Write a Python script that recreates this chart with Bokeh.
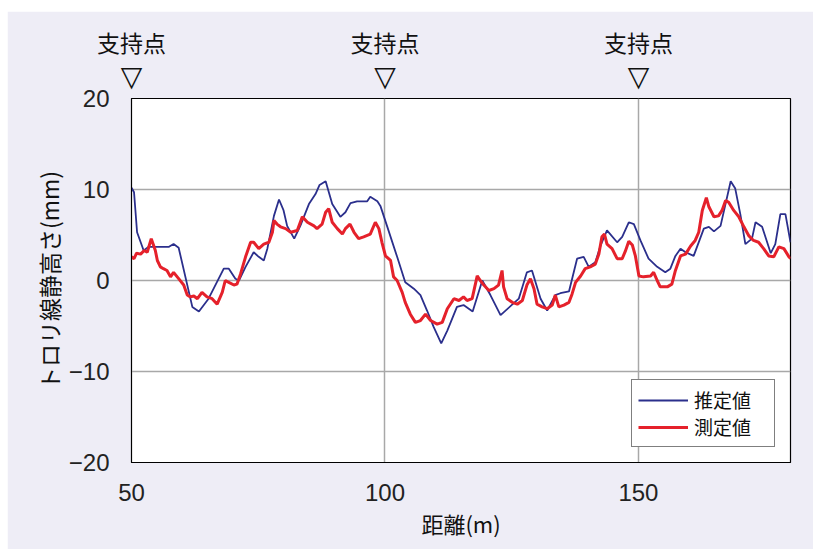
from bokeh.plotting import figure
from bokeh.models import FixedTicker, Legend, LegendItem, LinearAxis, Spacer
from bokeh.layouts import column, row
from bokeh.embed import file_html
from bokeh.resources import INLINE

# ---- data ----
est_x = [50.0, 50.5, 51.1, 52.4, 53.4, 57.4, 58.3, 59.3, 62.0, 63.3,
         65.2, 68.2, 69.2, 70.5, 71.2, 72.5, 74.1, 75.1, 76.1, 76.8,
         78.1, 79.1, 80.0, 80.7, 82.1, 83.3, 85.0, 86.3, 87.1, 88.3,
         89.6, 91.2, 92.2, 93.2, 94.5, 96.5, 97.1, 98.5, 99.1, 100.4,
         102.4, 104.0, 105.7, 107.0, 108.3, 109.6, 111.1, 112.3, 114.2, 115.5,
         117.3, 119.2, 120.8, 122.8, 126.4, 128.0, 129.0, 130.7, 132.0, 133.6,
         134.6, 136.3, 137.9, 139.2, 140.2, 141.5, 142.5, 143.8, 145.8, 146.8,
         148.1, 149.1, 150.4, 152.0, 153.7, 155.3, 156.3, 157.3, 158.3, 159.3,
         160.9, 162.9, 163.9, 164.9, 166.2, 168.2, 169.1, 170.1, 171.1, 172.4,
         173.1, 174.4, 176.1, 177.0, 178.0, 179.0, 180.0]
est_y = [10.2, 9.7, 5.3, 3.3, 3.7, 3.7, 4.0, 3.6, -2.9, -3.4,
         -2.0, 1.3, 1.3, 0.2, 0.0, 1.5, 3.1, 2.6, 2.2, 3.5,
         7.1, 8.9, 7.7, 6.0, 4.6, 6.0, 8.4, 9.5, 10.5, 10.9,
         8.4, 7.0, 7.5, 8.5, 8.7, 8.7, 9.2, 8.7, 8.2, 6.0,
         2.6, -0.2, -0.9, -1.6, -3.3, -5.1, -6.9, -5.5, -2.9, -2.7,
         -3.4, 0.0, -1.6, -3.8, -2.0, 0.9, 1.1, -2.0, -3.3, -1.6,
         -1.4, -1.2, 2.4, 2.6, 1.5, 2.0, 3.8, 5.5, 4.2, 4.8,
         6.4, 6.2, 4.4, 2.4, 1.5, 0.9, 1.3, 2.7, 3.5, 3.1,
         2.7, 5.7, 5.9, 5.4, 6.0, 10.9, 10.1, 7.3, 4.0, 4.6,
         6.4, 5.9, 3.0, 4.0, 7.3, 7.3, 4.2]

meas_x = [50.0, 50.5, 51.0, 51.8, 52.5, 53.1, 53.9, 54.4, 54.7, 55.1,
          55.7, 56.3, 57.0, 57.7, 58.3, 59.3, 60.3, 61.0, 61.6, 62.3,
          63.0, 63.9, 64.9, 65.9, 66.9, 67.9, 68.5, 69.2, 70.2, 70.8,
          71.5, 72.5, 73.5, 74.1, 75.1, 76.1, 77.1, 77.8, 78.1, 78.7,
          79.4, 80.4, 81.4, 82.7, 83.7, 84.7, 86.0, 86.6, 87.6, 88.3,
          88.9, 89.6, 90.6, 91.6, 92.2, 93.1, 93.9, 94.8, 95.8, 97.1,
          98.1, 98.8, 99.4, 100.1, 101.1, 101.7, 102.4, 103.4, 104.0, 105.0,
          106.0, 107.0, 108.0, 109.0, 110.3, 111.3, 112.3, 113.6, 114.6, 115.5,
          116.2, 117.2, 118.2, 118.8, 119.5, 120.5, 121.5, 122.4, 123.1, 123.4,
          124.1, 125.1, 126.1, 127.1, 128.0, 128.7, 129.4, 130.0, 131.0, 132.0,
          133.0, 133.6, 134.3, 135.3, 136.3, 136.9, 137.6, 138.6, 139.5, 140.5,
          141.5, 142.2, 142.8, 143.3, 143.8, 144.8, 145.8, 146.8, 147.4, 148.1,
          148.8, 149.4, 150.1, 151.0, 152.4, 153.0, 153.7, 154.3, 155.7, 156.6,
          157.3, 158.3, 159.3, 160.3, 161.2, 161.9, 162.6, 163.4, 163.9, 164.9,
          165.8, 166.5, 167.2, 167.8, 168.8, 169.8, 170.8, 171.8, 172.7, 173.7,
          174.7, 175.7, 176.7, 177.7, 178.7, 179.7, 180.0]
meas_y = [2.6, 2.4, 3.0, 2.9, 3.3, 3.1, 4.6, 3.8, 3.3, 2.2,
          1.5, 1.3, 1.1, 0.4, 0.9, 0.2, -0.5, -1.6, -1.8, -1.7,
          -2.0, -1.3, -1.8, -2.0, -2.6, -1.3, 0.0, -0.2, -0.5, -0.4,
          0.7, 2.6, 4.2, 4.2, 3.5, 4.0, 4.2, 5.3, 6.6, 6.2,
          5.9, 5.7, 5.3, 5.5, 7.0, 6.4, 6.0, 5.7, 6.2, 7.5,
          7.9, 6.4, 5.7, 5.1, 5.7, 6.2, 5.3, 4.6, 4.8, 5.1,
          6.4, 5.7, 4.2, 2.7, 2.2, 0.4, 0.0, -1.3, -2.4, -3.7,
          -4.6, -4.4, -3.7, -4.4, -4.8, -4.6, -3.1, -2.0, -2.2, -1.8,
          -2.2, -2.0, 0.5, 0.0, -0.5, -1.1, -0.9, -0.5, 1.1, -0.7,
          -2.0, -2.4, -2.6, -2.2, -0.5, 0.2, -0.9, -2.6, -2.9, -3.1,
          -2.7, -1.6, -2.9, -2.7, -2.4, -1.5, -0.2, 0.5, 1.3, 1.5,
          1.8, 2.9, 4.8, 5.1, 4.0, 3.5, 2.4, 2.4, 3.2, 4.3,
          3.9, 2.7, 0.5, 0.4, 0.5, 0.9, 0.0, -0.7, -0.7, -0.4,
          1.1, 2.7, 2.9, 3.8, 4.4, 5.3, 7.7, 9.1, 8.1, 7.0,
          7.1, 7.7, 8.8, 8.6, 7.7, 7.0, 5.9, 4.9, 4.4, 4.2,
          3.5, 2.7, 2.6, 3.7, 3.5, 2.6, 2.4]

support_x = [50, 100, 150]
support_label = "支持点"
support_mark = "▽"
x_ticks = [50, 100, 150]
y_ticks = [-20, -10, 0, 10, 20]
y_tick_labels = {-20: "−20", -10: "−10", 0: "0", 10: "10", 20: "20"}
series_names = ["推定値", "測定値"]

BLUE = "#2B2F8C"
RED = "#E5212B"
BG = "#EEEDF6"
CJK = "Noto Sans CJK JP"
NUM = "Liberation Sans"

p = figure(width=806, height=538, x_range=(50, 180), y_range=(-20, 20),
           output_backend="svg", toolbar_location=None,
           min_border_left=124, min_border_right=23,
           min_border_top=87, min_border_bottom=87)
p.border_fill_color = BG
p.background_fill_color = "white"
p.outline_line_color = "black"
p.outline_line_width = 1.2
p.outline_line_alpha = 1.0

r_est = p.line(est_x, est_y, line_color=BLUE, line_width=1.8)
r_meas = p.line(meas_x, meas_y, line_color=RED, line_width=3)

# axes
p.xaxis.ticker = FixedTicker(ticks=x_ticks)
p.yaxis.ticker = FixedTicker(ticks=y_ticks)
p.yaxis.major_label_overrides = y_tick_labels
for ax in (p.xaxis, p.yaxis):
    ax.major_tick_line_color = None
    ax.minor_tick_line_color = None
    ax.axis_line_color = "black"
    ax.major_label_text_font = NUM
    ax.major_label_text_font_size = "24px"
    ax.major_label_text_color = "#222222"
    ax.axis_label_text_font = CJK
    ax.axis_label_text_font_style = "normal"
    ax.axis_label_text_color = "#111111"
p.xaxis.major_label_standoff = 15
p.yaxis.major_label_standoff = 16
p.xaxis.axis_label = "距離(m)"
p.xaxis.axis_label_text_font_size = "22px"
p.xaxis.axis_label_standoff = 3
p.yaxis.axis_label = "トロリ線静高さ(mm)"
p.yaxis.axis_label_text_font_size = "23px"
p.yaxis.axis_label_standoff = 0

# support point markers above the frame (extra axes on top)
mark_axis = LinearAxis(ticker=FixedTicker(ticks=support_x),
                       major_label_overrides={sx: support_mark for sx in support_x})
text_axis = LinearAxis(ticker=FixedTicker(ticks=support_x),
                       major_label_overrides={sx: support_label for sx in support_x})
for ax, font, size, standoff in ((mark_axis, "DejaVu Sans", "28px", 0),
                                 (text_axis, CJK, "23px", -8)):
    ax.axis_line_color = None
    ax.major_tick_line_color = None
    ax.minor_tick_line_color = None
    ax.major_label_text_font = font
    ax.major_label_text_font_size = size
    ax.major_label_text_color = "#111111"
    ax.major_label_standoff = standoff
    ax.major_label_orientation = "horizontal"
p.add_layout(mark_axis, "above")
p.add_layout(text_axis, "above")

# grid
p.xgrid.ticker = FixedTicker(ticks=[100, 150])
p.ygrid.ticker = FixedTicker(ticks=[-10, 0, 10])
p.grid.grid_line_color = "#A8A8A8"
p.grid.grid_line_width = 1.5

legend = Legend(items=[LegendItem(label=series_names[0], renderers=[r_est]),
                       LegendItem(label=series_names[1], renderers=[r_meas])],
                location="bottom_right")
legend.margin = 15
legend.padding = 6
legend.spacing = 0
legend.glyph_width = 50
legend.glyph_height = 20
legend.label_height = 20
legend.label_width = 74
legend.label_standoff = 6
legend.label_text_font = CJK
legend.label_text_font_size = "19px"
legend.label_text_color = "#111111"
legend.border_line_color = "black"
legend.border_line_width = 1
legend.background_fill_color = "white"
legend.background_fill_alpha = 1.0
p.add_layout(legend)

page = column(Spacer(width=813, height=11), row(Spacer(width=7, height=538), p))

open("out.html", "w").write(file_html(page, INLINE))
